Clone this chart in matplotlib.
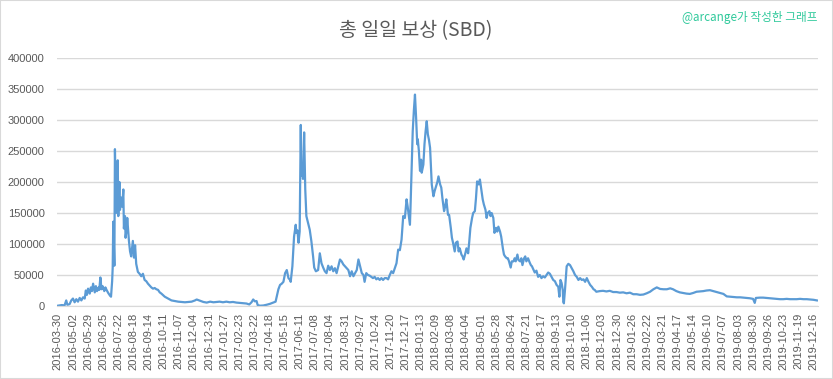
import numpy as np
import matplotlib
matplotlib.use('Agg')
import matplotlib.pyplot as plt
from matplotlib.patches import Rectangle

# 카테고리 번호(일) / 일일 보상 (SBD)
day = [0, 7, 12, 15, 17, 21, 24, 27, 30, 33, 36, 39, 42, 45, 48, 50, 52, 54, 57, 59,
       61, 63, 66, 68, 70, 73, 74, 76, 78, 80, 83, 85, 87, 90, 93, 95, 97, 98, 99, 101,
       102, 104, 105, 106, 107, 108, 110, 111, 113, 115, 117, 118, 120, 121, 123, 124, 127, 129, 131, 134,
       136, 138, 140, 143, 146, 149, 152, 155, 158, 161, 164, 167, 170, 173, 176, 179, 182, 185, 191, 197,
       203, 209, 215, 221, 227, 233, 239, 245, 248, 254, 260, 266, 272, 278, 284, 289, 295, 301, 307, 313,
       319, 325, 331, 337, 342, 346, 349, 352, 355, 357, 361, 367, 373, 379, 385, 389, 391, 394, 397, 400,
       403, 406, 409, 412, 415, 416, 419, 420, 422, 425, 426, 428, 430, 432, 434, 435, 437, 438, 440, 442,
       444, 447, 450, 453, 456, 458, 461, 465, 468, 471, 474, 477, 480, 483, 486, 489, 492, 495, 498, 501,
       504, 507, 510, 513, 516, 519, 522, 525, 528, 531, 534, 537, 540, 543, 546, 548, 551, 554, 557, 560,
       563, 566, 569, 572, 575, 578, 581, 584, 587, 590, 593, 596, 599, 602, 605, 608, 611, 614, 617, 620,
       623, 625, 627, 629, 630, 632, 634, 636, 638, 640, 642, 643, 645, 647, 649, 650, 653, 655, 657, 659,
       661, 663, 665, 667, 668, 671, 673, 675, 678, 680, 683, 685, 687, 690, 692, 694, 697, 699, 702, 704,
       706, 709, 711, 714, 716, 718, 721, 723, 725, 728, 730, 733, 735, 737, 740, 742, 745, 747, 749, 752,
       754, 756, 759, 761, 764, 766, 768, 771, 773, 775, 778, 780, 783, 785, 787, 790, 792, 795, 797, 799,
       802, 804, 806, 809, 811, 814, 816, 818, 821, 823, 826, 828, 830, 833, 835, 837, 840, 843, 845, 847,
       849, 852, 855, 858, 861, 864, 867, 870, 873, 876, 879, 882, 885, 888, 891, 894, 896, 898, 900, 902,
       903, 904, 906, 908, 909, 912, 915, 918, 921, 924, 927, 930, 933, 936, 939, 942, 945, 948, 951, 954,
       957, 959, 962, 968, 974, 980, 986, 992, 998, 1004, 1010, 1016, 1022, 1028, 1034, 1040, 1046, 1052, 1058, 1064,
       1070, 1076, 1082, 1088, 1094, 1099, 1105, 1111, 1117, 1123, 1129, 1135, 1141, 1147, 1153, 1159, 1165, 1171, 1177, 1183,
       1189, 1195, 1201, 1207, 1213, 1219, 1225, 1230, 1236, 1242, 1245, 1247, 1254, 1260, 1266, 1272, 1278, 1284, 1290, 1296,
       1302, 1308, 1314, 1320, 1326, 1332, 1338, 1344, 1350, 1356]

sbd = [500, 1500, 1000, 9000, 2000, 3000, 9000, 12000, 6000, 11000, 7000, 13000, 9000, 14000, 12000, 25000, 18000, 28000, 20000, 30000,
       24000, 36000, 22000, 32000, 24000, 30000, 26000, 46000, 27000, 32000, 24000, 30000, 26000, 21000, 17000, 15000, 40000, 62000, 136000, 65000,
       253000, 150000, 220000, 160000, 235000, 145000, 200000, 155000, 175000, 160000, 188000, 125000, 145000, 110000, 125000, 142000, 105000, 88000, 80000, 105000,
       78000, 98000, 68000, 55000, 52000, 48000, 52000, 42000, 40000, 36000, 33000, 30000, 28000, 29000, 27000, 26000, 22000, 20000, 15000, 12000,
       9000, 8000, 7000, 6500, 6000, 6500, 7000, 9000, 10500, 8500, 6500, 5500, 7000, 6000, 6500, 7000, 6000, 7000, 6000, 6500,
       5500, 5000, 4500, 4000, 2500, 6000, 10500, 7500, 8000, 1500, 500, 800, 2000, 3500, 5500, 7000, 15000, 27000, 34000, 36000,
       39000, 53000, 58000, 45000, 42000, 39000, 64000, 80000, 112000, 131000, 118000, 122000, 102000, 120000, 292000, 210000, 225000, 205000, 280000, 188000,
       145000, 134000, 123000, 104000, 80000, 62000, 56000, 58000, 85000, 69000, 62000, 56000, 53000, 65000, 58000, 64000, 56000, 61000, 53000, 64000,
       75000, 72000, 67000, 64000, 61000, 58000, 48000, 56000, 48000, 53000, 58000, 75000, 64000, 53000, 50000, 39000, 53000, 50000, 49000, 47000,
       45000, 47000, 43000, 45000, 42000, 45000, 42000, 45000, 45000, 43000, 50000, 56000, 53000, 61000, 69000, 91000, 90000, 107000, 145000, 142000,
       172000, 160000, 145000, 131000, 158000, 218000, 282000, 315000, 341000, 304000, 261000, 269000, 250000, 218000, 236000, 215000, 228000, 261000, 282000, 298000,
       277000, 268000, 255000, 218000, 196000, 177000, 185000, 191000, 200000, 209000, 196000, 191000, 174000, 153000, 161000, 172000, 147000, 147000, 126000, 110000,
       102000, 88000, 102000, 104000, 88000, 93000, 83000, 80000, 75000, 85000, 93000, 85000, 104000, 126000, 142000, 150000, 153000, 174000, 201000, 196000,
       204000, 191000, 172000, 164000, 155000, 142000, 150000, 153000, 145000, 150000, 142000, 118000, 126000, 120000, 128000, 120000, 112000, 93000, 83000, 80000,
       77000, 77000, 72000, 62000, 72000, 72000, 77000, 72000, 83000, 74000, 72000, 77000, 66000, 77000, 80000, 72000, 77000, 70000, 66000, 64000,
       60000, 54000, 57000, 47000, 50000, 45000, 48000, 46000, 50000, 54000, 52000, 47000, 42000, 40000, 34000, 31000, 15000, 42000, 37000, 26000,
       7000, 4300, 26000, 50000, 64000, 68000, 66000, 61000, 56000, 50000, 47000, 42000, 45000, 42000, 43000, 39000, 45000, 39000, 34000, 31000,
       27000, 26000, 23000, 24000, 24500, 23500, 24500, 22500, 22500, 21500, 22000, 20500, 21500, 19000, 19000, 18000, 18500, 20500, 23000, 27000,
       30000, 27500, 27000, 27000, 28500, 27000, 24000, 22000, 21000, 20000, 19500, 21000, 23000, 23500, 24000, 25000, 25500, 24000, 22500, 21000,
       19500, 15500, 15000, 14500, 14000, 14000, 13500, 13000, 12500, 11500, 5000, 13000, 13500, 13500, 13000, 12500, 12000, 11500, 11000, 11000,
       11500, 11000, 11000, 11000, 11500, 11000, 11000, 10500, 10000, 9000]

tick_labels = ['2016-03-30', '2016-05-02', '2016-05-29', '2016-06-25', '2016-07-22', '2016-08-18',
               '2016-09-14', '2016-10-11', '2016-11-07', '2016-12-04', '2016-12-31', '2017-01-27',
               '2017-02-23', '2017-03-22', '2017-04-18', '2017-05-15', '2017-06-11', '2017-07-08',
               '2017-08-04', '2017-08-31', '2017-09-27', '2017-10-24', '2017-11-20', '2017-12-17',
               '2018-01-13', '2018-02-09', '2018-03-08', '2018-04-04', '2018-05-01', '2018-05-28',
               '2018-06-24', '2018-07-21', '2018-08-17', '2018-09-13', '2018-10-10', '2018-11-06',
               '2018-12-03', '2018-12-30', '2019-01-26', '2019-02-22', '2019-03-21', '2019-04-17',
               '2019-05-14', '2019-06-10', '2019-07-07', '2019-08-03', '2019-08-30', '2019-09-26',
               '2019-10-23', '2019-11-19', '2019-12-16']
label_step = 27
y_ticks = [0, 50000, 100000, 150000, 200000, 250000, 300000, 350000, 400000]

fig = plt.figure(figsize=(8.33, 3.79), dpi=100)
ax = fig.add_axes([57 / 833, 1 - 306 / 379, 761 / 833, 248 / 379])

ax.plot(day, sbd, color='#5B9BD5', linewidth=1.6, solid_joinstyle='round')

ax.set_xlim(-1.5, 1358)
ax.set_ylim(0, 400000)
ax.set_yticks(y_ticks)
ax.set_yticklabels([str(v) for v in y_ticks])
ax.set_xticks(np.arange(len(tick_labels)) * label_step)
ax.set_xticklabels(tick_labels, rotation=90)

ax.grid(axis='y', color='#D9D9D9', linewidth=1)
ax.set_axisbelow(True)
for side in ['top', 'right', 'left']:
    ax.spines[side].set_visible(False)
ax.spines['bottom'].set_color('#D9D9D9')
ax.tick_params(axis='both', length=0, colors='#595959', labelsize=8)
ax.tick_params(axis='y', pad=9)
ax.tick_params(axis='x', pad=5)
for lbl in ax.get_xticklabels() + ax.get_yticklabels():
    lbl.set_family('Liberation Sans')

# 제목 / 워터마크
fig.text(0.499, 1 - 31 / 379, '총 일일 보상 (SBD)', ha='center', va='center',
         fontsize=14, color='#595959', family=['Noto Sans CJK KR', 'DejaVu Sans'])
fig.text(818 / 833, 1 - 17 / 379, '@arcange가 작성한 그래프', ha='right', va='center',
         fontsize=8.4, color='#2FC99B', family=['Noto Sans CJK KR', 'DejaVu Sans'])

fig.patches.append(Rectangle((0, 0), 1, 1, transform=fig.transFigure, fill=False,
                             edgecolor='#D9D9D9', linewidth=1.5))

plt.savefig('out.png', dpi=100)
plt.close()
